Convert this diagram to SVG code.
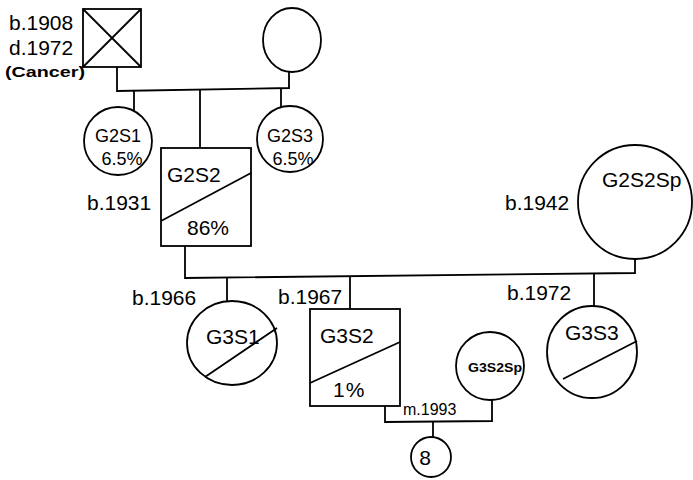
<svg xmlns="http://www.w3.org/2000/svg" width="693" height="480" viewBox="0 0 693 480">
<style>
.s{fill:none;stroke:#000;stroke-width:1.8;stroke-linejoin:miter}
.t{font-family:"Liberation Sans",Arial,sans-serif;font-size:21px;fill:#000}
.sm{font-size:18px}
.b{font-weight:bold}
</style>
<rect width="693" height="480" fill="#fff"/>
<g id="connectors" class="s">
<polyline points="117,67 117,91 289,88 289,72"/>
<line x1="134" y1="90.5" x2="134" y2="111"/>
<line x1="200" y1="89.5" x2="200" y2="148"/>
<line x1="281" y1="88.5" x2="281" y2="107"/>
<polyline points="185,246 185,278 635,273 635,259"/>
<line x1="227" y1="277.5" x2="227" y2="301"/>
<line x1="350" y1="276.5" x2="350" y2="309"/>
<line x1="594" y1="274" x2="594" y2="306"/>
<polyline points="385,406 385,422 492,421 492,400"/>
<line x1="433" y1="421.5" x2="433" y2="437"/>
</g>
<g id="G1_father">
<rect class="s" x="83" y="9" width="58" height="58"/>
<line class="s" x1="83" y1="9" x2="141" y2="67"/>
<line class="s" x1="141" y1="9" x2="83" y2="67"/>
<text class="t" x="9" y="30">b.1908</text>
<text class="t" x="9" y="55">d.1972</text>
<text class="t b" x="5" y="77" style="font-size:15px" textLength="80" lengthAdjust="spacingAndGlyphs">(Cancer)</text>
</g>
<g id="G1_mother">
<ellipse class="s" cx="292" cy="40" rx="29" ry="32"/>
</g>
<g id="G2S1">
<circle class="s" cx="118" cy="141" r="34"/>
<text class="t sm" x="118" y="142" text-anchor="middle">G2S1</text>
<text class="t sm" x="122" y="165" text-anchor="middle">6.5%</text>
</g>
<g id="G2S2">
<rect class="s" x="161" y="148" width="90" height="98"/>
<line class="s" x1="161" y1="221" x2="251" y2="173"/>
<text class="t" x="167" y="182">G2S2</text>
<text class="t" x="187" y="235">86%</text>
<text class="t" x="87" y="210">b.1931</text>
</g>
<g id="G2S3">
<circle class="s" cx="290" cy="139" r="33"/>
<text class="t sm" x="290" y="142" text-anchor="middle">G2S3</text>
<text class="t sm" x="293" y="165" text-anchor="middle">6.5%</text>
</g>
<g id="G2S2Sp">
<ellipse class="s" cx="635" cy="202" rx="57" ry="57"/>
<text class="t" x="602" y="187">G2S2Sp</text>
<text class="t" x="505" y="210">b.1942</text>
</g>
<g id="G3S1">
<ellipse class="s" cx="232" cy="343" rx="45" ry="42"/>
<line class="s" x1="205" y1="377" x2="277" y2="328"/>
<text class="t" x="206" y="344">G3S1</text>
<text class="t" x="132" y="305">b.1966</text>
</g>
<g id="G3S2">
<rect class="s" x="310" y="309" width="90" height="97"/>
<line class="s" x1="310" y1="383" x2="400" y2="342"/>
<text class="t" x="320" y="343">G3S2</text>
<text class="t" x="333" y="397" letter-spacing="1">1%</text>
<text class="t" x="278" y="304">b.1967</text>
</g>
<g id="G3S2Sp">
<circle class="s" cx="490" cy="366" r="34"/>
<text class="t b" x="468" y="372" style="font-size:13px" textLength="54" lengthAdjust="spacingAndGlyphs">G3S2Sp</text>
<text class="t" x="403" y="415" style="font-size:16px">m.1993</text>
</g>
<g id="G3S3">
<ellipse class="s" cx="592" cy="352" rx="45" ry="46"/>
<line class="s" x1="563" y1="379" x2="637" y2="341"/>
<text class="t" x="565" y="340">G3S3</text>
<text class="t" x="507" y="300">b.1972</text>
</g>
<g id="G4_children">
<circle class="s" cx="431" cy="457" r="20"/>
<text class="t" x="425" y="465" text-anchor="middle">8</text>
</g>
</svg>
